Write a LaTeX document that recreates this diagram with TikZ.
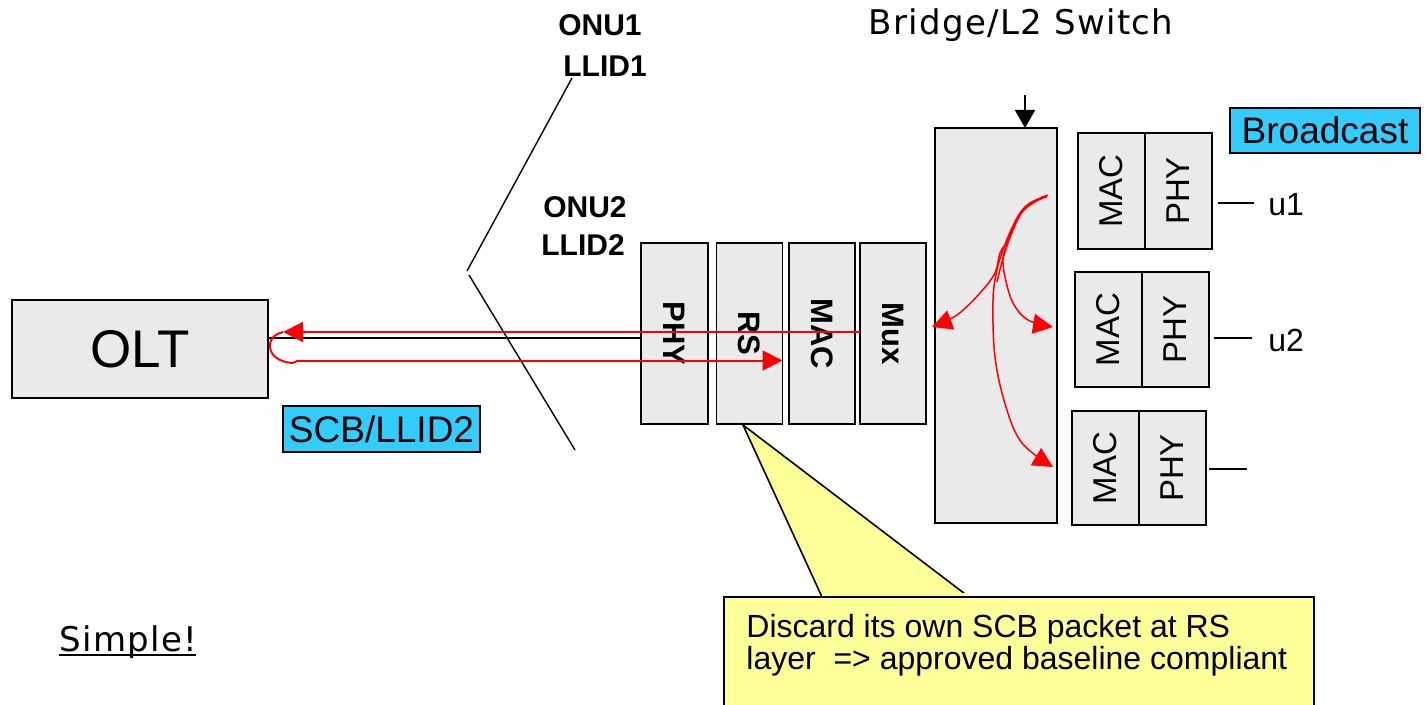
\documentclass[tikz,border=0pt]{standalone}
\usepackage{fontspec}
\setmainfont{Liberation Sans}
\newfontfamily\vfont[LetterSpace=4]{DejaVu Sans}
\usetikzlibrary{arrows.meta,calc}
\definecolor{boxgray}{HTML}{EAEAEA}
\definecolor{skyb}{HTML}{33CCFF}
\definecolor{callyel}{HTML}{FFFF99}
\definecolor{myred}{HTML}{FF0000}
\begin{document}
\begin{tikzpicture}[x=0.5pt,y=-0.5pt,
  gbox/.style={draw=black,line width=0.9pt,fill=boxgray,inner sep=0pt,outer sep=0pt},
  cbox/.style={draw=black,line width=0.7pt,fill=skyb,inner sep=0pt,font=\fontsize{18.5}{20}\selectfont},
  stk/.style={gbox,minimum width=33pt,minimum height=90.5pt,font=\bfseries\fontsize{15.5}{18}\selectfont},
  rbox/.style={gbox,minimum width=33.5pt,minimum height=58pt,font=\fontsize{16.5}{18}\selectfont},
  onu/.style={font=\bfseries\fontsize{15}{18}\selectfont,inner sep=0pt},
  ulab/.style={font=\fontsize{16}{18}\selectfont,inner sep=0pt,anchor=west},
  redarr/.style={draw=myred,line width=1pt,-{Triangle[length=10pt,width=10pt]}},
  redcurve/.style={draw=myred,line width=0.75pt,-{Triangle[length=10pt,width=10pt]}},
  thin/.style={draw=black,line width=0.7pt}
]
\useasboundingbox (0,0) rectangle (1427,705);

% OLT and label
\node[gbox,minimum width=128pt,minimum height=49pt,font=\fontsize{26.5}{30}\selectfont] (olt) at (140,349) {OLT};
\node[cbox,minimum width=98.5pt,minimum height=23pt] (scb) at (381.5,429) {SCB/LLID2};
\node[cbox,minimum width=95pt,minimum height=22.5pt] (bcast) at (1325,130.5) {Broadcast};

% ONU labels
\node[onu] (onu1) at (600,25) {ONU1};
\node[onu] (llid1) at (605,66) {LLID1};
\node[onu] (onu2) at (585,207) {ONU2};
\node[onu] (llid2) at (583,245) {LLID2};

% fiber split lines
\draw[thin] (572,78) -- (467,271);
\draw[thin] (469,275) -- (575,450);

% ONU2 stack
\node[stk,minimum width=33.5pt] (phy) at (674.5,333.5) {\rotatebox{-90}{PHY}};
\node[stk] (rs) at (749.5,333.5) {\rotatebox{-90}{RS}};
\node[stk] (mac) at (822,333.5) {\rotatebox{-90}{MAC}};
\node[stk] (mux) at (893,333.5) {\rotatebox{-90}{Mux}};

% Bridge
\node[gbox,minimum width=61pt,minimum height=197.5pt] (bridge) at (996,325.5) {};
\node[font=\vfont\fontsize{17}{19}\selectfont,inner sep=0pt,anchor=base west] (btitle) at (868,35) {Bridge/L2 Switch};
\coordinate (bt) at (1025,95);
\draw[thin,line width=0.8pt,-{Triangle[length=9pt,width=10pt]}] (bt) -- (bridge.north -| bt);

% right MAC/PHY pairs
\node[rbox] (macA) at (1111.5,191) {\rotatebox{90}{MAC}};
\node[rbox] (phyA) at (1178.5,191) {\rotatebox{90}{PHY}};
\node[rbox,minimum height=57.5pt] (macB) at (1108.5,329.5) {\rotatebox{90}{MAC}};
\node[rbox,minimum height=57.5pt] (phyB) at (1175.5,329.5) {\rotatebox{90}{PHY}};
\node[rbox,minimum height=57pt] (macC) at (1105.5,468) {\rotatebox{90}{MAC}};
\node[rbox,minimum height=57pt] (phyC) at (1172.5,468) {\rotatebox{90}{PHY}};

\draw[thin] ($(phyA.east)+(6,12)$) coordinate (uA) -- ++(36,0);
\draw[thin] ($(phyB.east)+(5,8.5)$) coordinate (uB) -- ++(38,0);
\draw[thin] ($(phyC.east)+(3,1)$) coordinate (uC) -- ++(38,0);
\node[ulab] (u1) at (1268,205) {u1};
\node[ulab] (u2) at (1268,340) {u2};

% OLT <-> ONU lines
\coordinate (bly) at (0,338);
\coordinate (ury) at (0,332);
\coordinate (lry) at (0,360.5);
\coordinate (uptip) at (283,332);
\coordinate (lowstart) at (298,360.5);
\draw[thin,line width=0.9pt] (olt.east |- bly) -- (phy.west |- bly);
\draw[redarr] (mux.west |- ury) -- (uptip);
\draw[draw=myred,line width=1pt] (uptip) .. controls (276,334) and (270,337) .. (270,346)
   .. controls (270,356) and (280,362) .. (292,363) .. controls (295,363) and (296,361) .. (lowstart);
\draw[redarr] (lowstart) -- (rs.east |- lry);

% red broadcast curves in bridge
\draw[redcurve] plot[smooth,tension=0.6] coordinates {(1047,197) (1030,203) (1017,218) (1008,240) (1000,253) (995,273) (980,293) (957,315) (932,327)};
\draw[redcurve] plot[smooth,tension=0.6] coordinates {(1043,198) (1027,206) (1015,223) (1007,245) (1003,258) (1005,277) (1013,303) (1028,320) (1053,327)};
\draw[redcurve] plot[smooth,tension=0.6] coordinates {(1045,196) (1025,207) (1012,228) (1003,250) (997,270) (993,300) (995,357) (1006,407) (1022,443) (1053,467)};
\draw[draw=myred,line width=0.75pt] plot[smooth,tension=0.6] coordinates {(1048,195) (1024,210) (1011,235) (1002,262) (997,282)};

% callout
\coordinate (ctip) at (743,425);
\coordinate (pa) at (822,597);
\coordinate (pb) at (969,597);
\draw[fill=callyel,draw=black,line width=0.8pt] (724,597) rectangle (1314,712);
\fill[callyel] (ctip) -- (pa) -- ([yshift=2pt]pa) -- ([yshift=2pt]pb) -- (pb) -- cycle;
\draw[line width=0.8pt,line join=miter] (pa) -- (ctip) -- (pb);
\fill[callyel] ([xshift=-0.2pt,yshift=0.6pt]pa) rectangle ([xshift=0.2pt,yshift=2pt]pb);
\node[anchor=base west,inner sep=0pt,align=left,font=\fontsize{16}{16}\selectfont] (callout) at (746,669)
  {Discard its own SCB packet at RS\\layer~ => approved baseline compliant};

% Simple!
\node[font=\vfont\fontsize{17}{19}\selectfont,inner sep=0pt,anchor=base west] (simple) at (59,651) {Simple!};
\draw[line width=1.2pt] ([yshift=-2pt]simple.base west) -- ([yshift=-2pt,xshift=-1pt]simple.base east);
\end{tikzpicture}
\end{document}
